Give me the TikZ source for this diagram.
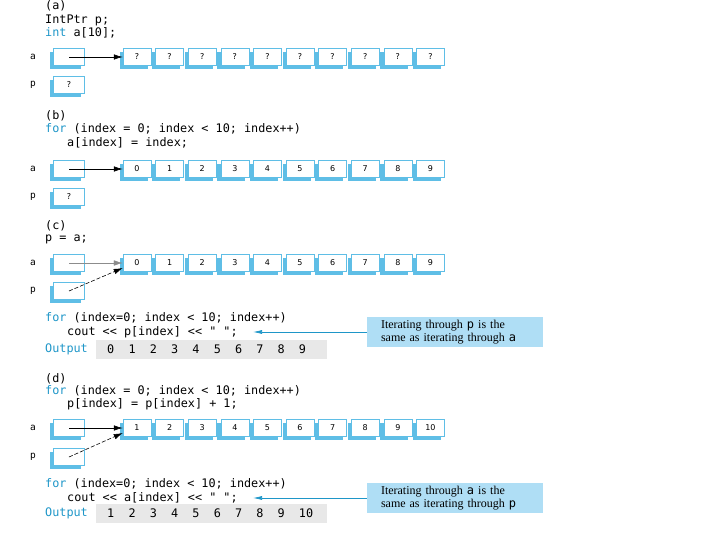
\documentclass[tikz,border=0pt]{standalone}
\usepackage{fontspec}
\usepackage{xcolor}
\setmainfont{Liberation Serif}
\newfontfamily\codefont{DejaVu Sans Mono}
\newfontfamily\cellfont{DejaVu Sans}
\usepackage{tikz}
\usetikzlibrary{arrows.meta, positioning, shadows}
\definecolor{codeblue}{RGB}{30,150,200}
\definecolor{boxblue}{RGB}{95,190,230}
\definecolor{noteblue}{RGB}{175,222,245}
\definecolor{bandgray}{RGB}{232,232,232}
\newcommand{\kwd}[1]{\textcolor{codeblue}{#1}}

\begin{document}
\begin{tikzpicture}[x=1pt, y=-1pt,
		code/.style={anchor=west, inner sep=0pt, font=\codefont\fontsize{11.8}{14}\selectfont},
		var/.style={inner sep=0pt, font=\codefont\fontsize{9.5}{10}\selectfont},
		cell/.style={draw=boxblue, line width=0.5pt, fill=white, minimum width=28pt, minimum height=17pt, inner sep=0pt,
			font=\cellfont\fontsize{8}{9}\selectfont, general shadow={fill=boxblue, shadow xshift=-3.5pt, shadow yshift=-3.5pt}},
		ptr/.style={cell, minimum width=31pt},
		band/.style={fill=bandgray, inner sep=0pt, minimum width=231pt, minimum height=19pt},
		note/.style={fill=noteblue, inner xsep=14pt, minimum height=30pt, text width=148pt, align=left,
			font=\fontsize{12}{12.5}\selectfont},
		ptrarrow/.style={-{Latex[length=9pt, width=5.5pt]}, line width=0.6pt},
		notearrow/.style={draw=codeblue, line width=0.7pt, -{Latex[length=9pt, width=4pt]}}]
	\useasboundingbox (0,0) rectangle (720,540);
	% (a)
	\node[code] (ta0) at (45,6) {(a)};
	\node[code] (ta1) at (45,20) {IntPtr p;};
	\node[code] (ta2) at (45,33) {\kwd{int} a[10];};
	\node[var] (la) at (33,57) {a};
	\node[var] (lp) at (33,85) {p};
	\node[ptr] (pa) at (69,57) {};
	\node[ptr] (pp) at (69,85) {?};
	\foreach \v [count=\i from 0] in {?,?,?,?,?,?,?,?,?,?}
		\node[cell] (cA\i) at (137+32.6*\i,57) {\v};
	\draw[ptrarrow] (pa.center) -- (cA0.west);
	% (b)
	\node[code] (tb0) at (45,116) {(b)};
	\node[code] (tb1) at (45,129) {\kwd{for} (index = 0; index < 10; index++)};
	\node[code] (tb2) at (67,143) {a[index] = index;};
	\node[var] (lba) at (33,169) {a};
	\node[var] (lbp) at (33,197) {p};
	\node[ptr] (pba) at (69,169) {};
	\node[ptr] (pbp) at (69,197) {?};
	\foreach \v [count=\i from 0] in {0,1,2,3,4,5,6,7,8,9}
		\node[cell] (cB\i) at (137+32.6*\i,169) {\v};
	\draw[ptrarrow] (pba.center) -- (cB0.west);
	% (c)
	\node[code] (tc0) at (45,226) {(c)};
	\node[code] (tc1) at (45,239) {p = a;};
	\node[var] (lca) at (33,263) {a};
	\node[var] (lcp) at (33,291) {p};
	\node[ptr] (pca) at (69,263) {};
	\node[ptr] (pcp) at (69,291) {};
	\foreach \v [count=\i from 0] in {0,1,2,3,4,5,6,7,8,9}
		\node[cell] (cC\i) at (137+32.6*\i,263) {\v};
	\draw[ptrarrow, draw=black!45, line width=0.4pt] (pca.center) -- (cC0.west);
	\draw[ptrarrow, dash pattern=on 4pt off 2pt] (pcp.center) -- ([yshift=-5pt]cC0.west);
	\node[code] (tc2) at (45,318) {\kwd{for} (index=0; index < 10; index++)};
	\node[code] (tc3) at (67,332) {cout << p[index] << " ";};
	\node[code, text=codeblue] (outc) at (45,349) {Output};
	\node[band, anchor=west] (bandc) at (96,349) {};
	\node[code] (digc) at (107,349) {0\ \ 1\ \ 2\ \ 3\ \ 4\ \ 5\ \ 6\ \ 7\ \ 8\ \ 9};
	\node[note] (notec) at (455,332) {Iterating through {\codefont p} is the\\ same as iterating through {\codefont a}};
	\coordinate (tipc) at (253,332);
	\draw[notearrow] (notec.west) -- (tipc);
	% (d)
	\node[code] (td0) at (45,379) {(d)};
	\node[code] (td1) at (45,391) {\kwd{for} (index = 0; index < 10; index++)};
	\node[code] (td2) at (67,404) {p[index] = p[index] + 1;};
	\node[var] (lda) at (33,428) {a};
	\node[var] (ldp) at (33,457) {p};
	\node[ptr] (pda) at (69,428) {};
	\node[ptr] (pdp) at (69,457) {};
	\foreach \v [count=\i from 0] in {1,2,3,4,5,6,7,8,9,10}
		\node[cell] (cD\i) at (137+32.6*\i,428) {\v};
	\draw[ptrarrow] (pda.center) -- (cD0.west);
	\draw[ptrarrow, dash pattern=on 4pt off 2pt] (pdp.center) -- ([yshift=-5pt]cD0.west);
	\node[code] (td3) at (45,484) {\kwd{for} (index=0; index < 10; index++)};
	\node[code] (td4) at (67,498) {cout << a[index] << " ";};
	\node[code, text=codeblue] (outd) at (45,513) {Output};
	\node[band, anchor=west] (bandd) at (96,513) {};
	\node[code] (digd) at (107,513) {1\ \ 2\ \ 3\ \ 4\ \ 5\ \ 6\ \ 7\ \ 8\ \ 9\ \ 10};
	\node[note] (noted) at (455,498) {Iterating through {\codefont a} is the\\ same as iterating through {\codefont p}};
	\coordinate (tipd) at (253,498);
	\draw[notearrow] (noted.west) -- (tipd);
\end{tikzpicture}
\end{document}
